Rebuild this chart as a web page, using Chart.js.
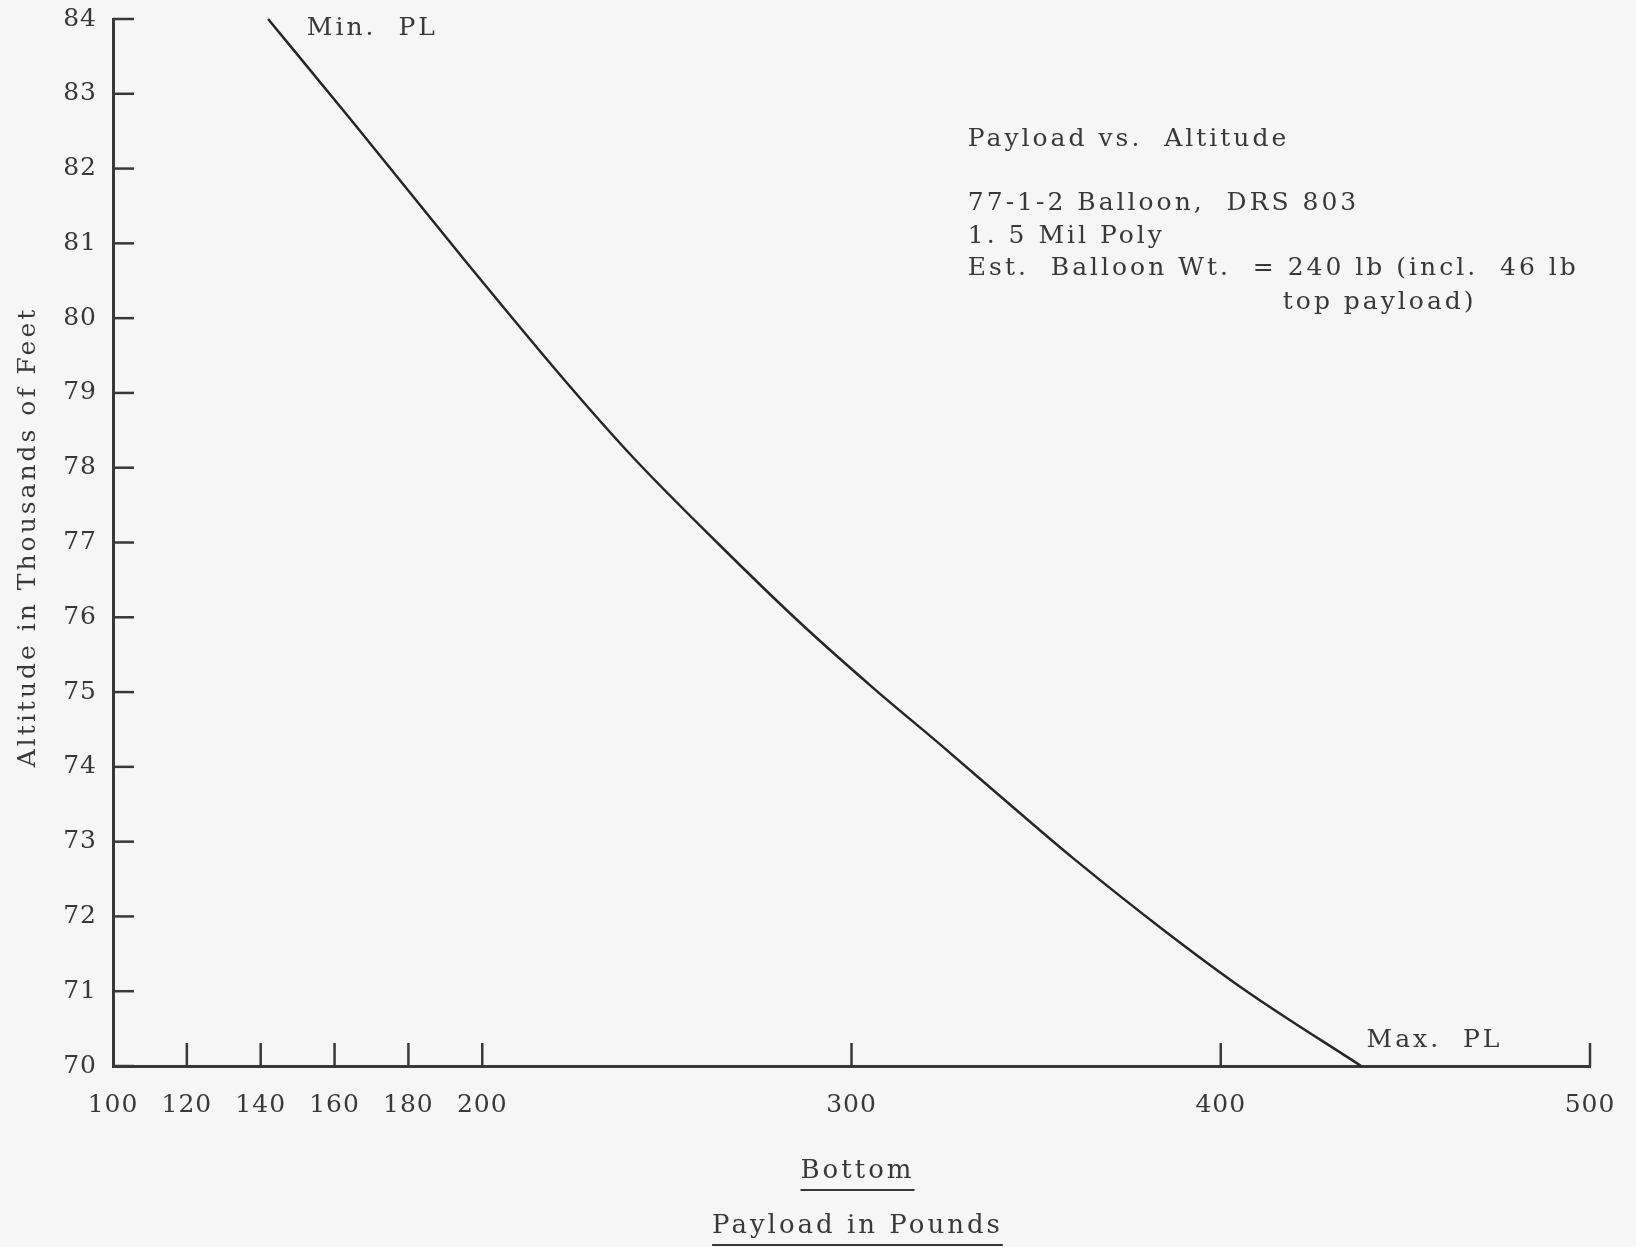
<!DOCTYPE html>
<html>
<head>
<meta charset="utf-8">
<script src="https://cdn.jsdelivr.net/npm/chart.js@4.4.1/dist/chart.umd.min.js"></script>
<style>
  html, body { margin: 0; padding: 0; background: #f6f6f6; }
  #wrap { width: 1636px; height: 1247px; position: relative; }
</style>
</head>
<body>
<div id="wrap"><canvas id="chart"></canvas></div>
<script>
// values (payload lb vs altitude in thousands of ft)
const payload  = [142, 164, 193, 223, 241, 264, 286, 306, 324, 344, 360, 385, 407, 438];
const altitude = [84.0, 82.68, 80.91, 79.13, 78.13, 76.98, 75.93, 75.05, 74.30, 73.45, 72.78, 71.80, 71.00, 70.0];

const xTicks = [100, 120, 140, 160, 180, 200, 300, 400, 500];
const yTicks = [70, 71, 72, 73, 74, 75, 76, 77, 78, 79, 80, 81, 82, 83, 84];

const infoLines = [
    "Payload vs.  Altitude",
    "77-1-2 Balloon,  DRS 803",
    "1. 5 Mil Poly",
    "Est.  Balloon Wt.  = 240 lb (incl.  46 lb"
];
const infoTail = "top payload)";
const yTitle = "Altitude in Thousands of Feet";
const xTitle1 = "Bottom";
const xTitle2 = "Payload in Pounds";

const INK = '#383838';
const FONT = '"DejaVu Serif", "Liberation Serif", serif';

const paperMarks = {
    id: 'paperMarks',
    beforeDraw(chart) {
        chart.ctx.letterSpacing = '1px';
    },
    afterDraw(chart) {
        const ctx = chart.ctx;
        const a = chart.chartArea;
        const x = chart.scales.x, y = chart.scales.y;
        ctx.save();
        ctx.strokeStyle = INK;
        ctx.lineWidth = 2.5;
        // inward tick marks
        yTicks.forEach(v => {
            const py = y.getPixelForValue(v);
            ctx.beginPath();
            ctx.moveTo(a.left, py);
            ctx.lineTo(a.left + 21, py);
            ctx.stroke();
        });
        xTicks.slice(1).forEach(v => {
            const px = x.getPixelForValue(v);
            ctx.beginPath();
            ctx.moveTo(px, a.bottom);
            ctx.lineTo(px, a.bottom - 23);
            ctx.stroke();
        });

        ctx.fillStyle = INK;
        ctx.textBaseline = 'middle';
        ctx.textAlign = 'left';
        ctx.letterSpacing = '3px';
        ctx.font = '25px ' + FONT;
        ctx.fillText("Min.  PL", x.getPixelForValue(152.5), y.getPixelForValue(83.87));
        ctx.fillText("Max.  PL", x.getPixelForValue(439.5), y.getPixelForValue(70.34));

        // info block
        const bx = x.getPixelForValue(331.5);
        const rows = [139, 203, 236, 268];
        infoLines.forEach((t, i) => ctx.fillText(t, bx, rows[i]));
        ctx.fillText(infoTail, x.getPixelForValue(416.8), 302);

        // axis titles
        ctx.font = '25px ' + FONT;
        ctx.save();
        ctx.translate(28, 537);
        ctx.rotate(-Math.PI / 2);
        ctx.textAlign = 'center';
        ctx.fillText(yTitle, 0, 0);
        ctx.restore();

        ctx.font = '26px ' + FONT;
        ctx.textAlign = 'center';
        const cx = x.getPixelForValue(300) + 6;
        [[xTitle1, 1171], [xTitle2, 1226]].forEach(([t, ty]) => {
            ctx.fillText(t, cx, ty);
            const w = ctx.measureText(t).width;
            ctx.lineWidth = 2;
            ctx.beginPath();
            ctx.moveTo(cx - w / 2, ty + 19);
            ctx.lineTo(cx + w / 2, ty + 19);
            ctx.stroke();
        });
        ctx.restore();
    }
};

new Chart(document.getElementById('chart'), {
    type: 'line',
    data: {
        datasets: [{
            label: 'Altitude',
            data: payload.map((p, i) => ({ x: p, y: altitude[i] })),
            borderColor: '#262626',
            borderWidth: 2.5,
            pointRadius: 0,
            fill: false,
            cubicInterpolationMode: 'monotone',
            clip: false
        }]
    },
    options: {
        responsive: true,
        maintainAspectRatio: false,
        animation: false,
        layout: { padding: { top: 19, right: 46, left: 0, bottom: 0 } },
        plugins: {
            legend: { display: false },
            tooltip: { enabled: false }
        },
        scales: {
            x: {
                type: 'linear',
                min: 100,
                max: 500,
                afterBuildTicks: s => { s.ticks = xTicks.map(v => ({ value: v })); },
                afterFit: s => { s.height = 181; s.paddingLeft = 0; s.paddingRight = 0; },
                grid: { display: false, drawTicks: false },
                border: { display: true, color: INK, width: 3 },
                ticks: {
                    color: INK,
                    padding: 24,
                    maxRotation: 0,
                    autoSkip: false,
                    font: { family: FONT, size: 25 }
                }
            },
            y: {
                type: 'linear',
                min: 70,
                max: 84,
                afterBuildTicks: s => { s.ticks = yTicks.map(v => ({ value: v })); },
                afterFit: s => { s.width = 113; s.paddingTop = 0; s.paddingBottom = 0; },
                grid: { display: false, drawTicks: false },
                border: { display: true, color: INK, width: 3 },
                ticks: {
                    color: INK,
                    padding: 16,
                    autoSkip: false,
                    font: { family: FONT, size: 25 }
                }
            }
        }
    },
    plugins: [paperMarks]
});
</script>
</body>
</html>
